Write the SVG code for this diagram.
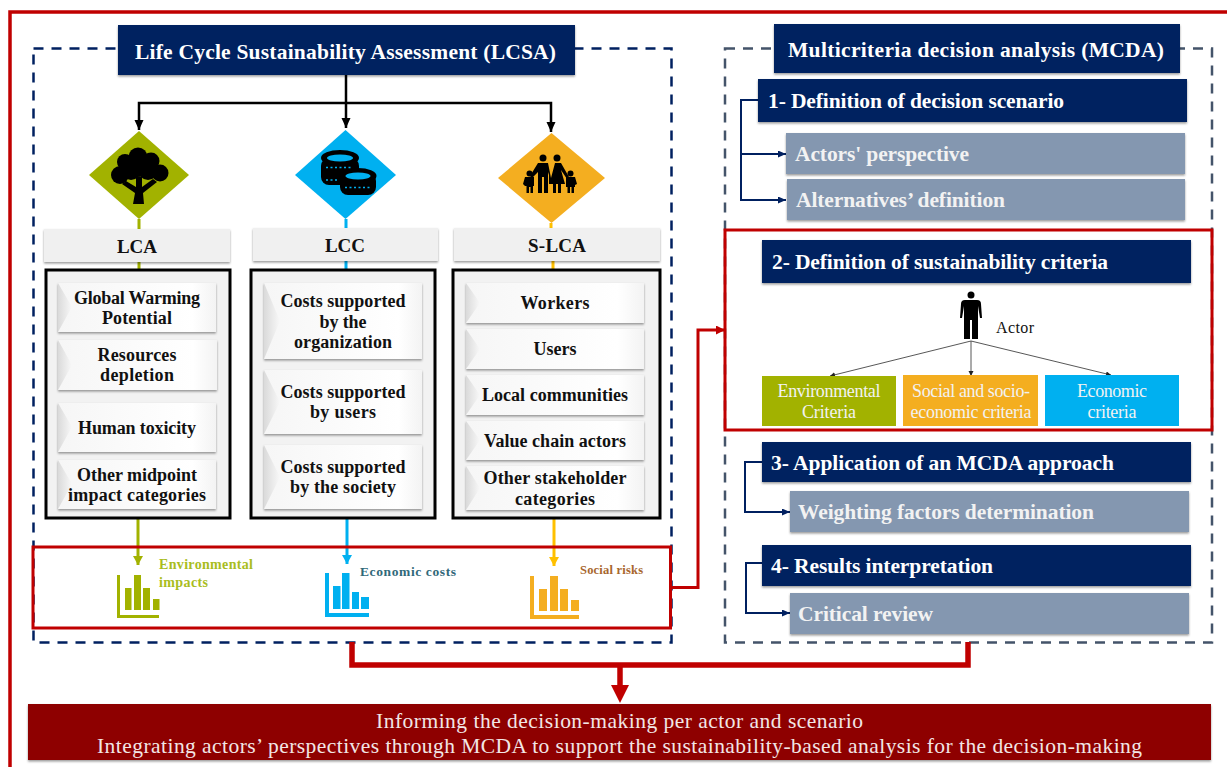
<svg xmlns="http://www.w3.org/2000/svg" width="1227" height="767" viewBox="0 0 1227 767">
<style>
text{font-family:"Liberation Serif","Times New Roman",serif;}
.b{font-weight:bold}
.h{font-size:21.5px;font-weight:bold;fill:#fff}
.s{font-size:21.5px;font-weight:bold;fill:#f2f2f2}
.t{font-size:18px;font-weight:bold;fill:#111;}
.c{font-size:18px;fill:#f2f2f2;}
.m{text-anchor:middle}
.navy{fill:#002060;filter:url(#sh)}
.slate{fill:#8497b0;filter:url(#sh)}
.hd{fill:#f0f0f0;filter:url(#sh)}
.panel{fill:#f2f2f2;stroke:#000;stroke-width:3}
.tile{fill:url(#bev);filter:url(#sh)}
.edge{fill:url(#wedge)}
.bl{fill:none;stroke:#000;stroke-width:2.5}
.nv{fill:none;stroke:#002060;stroke-width:2}
.rd{fill:none;stroke:#c00000}
.gr{stroke:#444;stroke-width:.9;fill:none}
</style>
<defs>
<filter id="sh" x="-5%" y="-10%" width="110%" height="125%"><feDropShadow dx="0" dy="1.5" stdDeviation="1" flood-color="#000" flood-opacity=".4"/></filter>
<linearGradient id="bev" x1="0" y1="0" x2="1" y2="0"><stop offset="0" stop-color="#f6f6f6"/><stop offset=".85" stop-color="#fff"/><stop offset="1" stop-color="#f3f3f3"/></linearGradient>
<linearGradient id="wedge" x1="0" y1="0" x2="1" y2="0"><stop offset="0" stop-color="#dadada"/><stop offset="1" stop-color="#f8f8f8"/></linearGradient>
<marker id="ab" markerUnits="userSpaceOnUse" markerWidth="12" markerHeight="10" refX="10" refY="4.5" orient="auto"><path d="M0 0L10 4.5L0 9Z" fill="#000"/></marker>
<marker id="an" markerUnits="userSpaceOnUse" markerWidth="10" markerHeight="8" refX="8" refY="3.5" orient="auto"><path d="M0 0L8 3.5L0 7Z" fill="#002060"/></marker>
<marker id="ag" markerUnits="userSpaceOnUse" markerWidth="7" markerHeight="6" refX="5" refY="2.5" orient="auto"><path d="M0 0L5 2.5L0 5Z" fill="#222"/></marker>
<marker id="ar" markerUnits="userSpaceOnUse" markerWidth="12" markerHeight="10" refX="9" refY="4.5" orient="auto"><path d="M0 0L9 4.5L0 9Z" fill="#c00000"/></marker>
<marker id="ao" markerUnits="userSpaceOnUse" markerWidth="11" markerHeight="11" refX="9" refY="5" orient="auto"><path d="M0 0L9 5L0 10Z" fill="#a2b200"/></marker>
<marker id="ac" markerUnits="userSpaceOnUse" markerWidth="11" markerHeight="11" refX="9" refY="5" orient="auto"><path d="M0 0L9 5L0 10Z" fill="#00b0f0"/></marker>
<marker id="ay" markerUnits="userSpaceOnUse" markerWidth="11" markerHeight="11" refX="9" refY="5" orient="auto"><path d="M0 0L9 5L0 10Z" fill="#ffc000"/></marker>
</defs>
<rect width="1227" height="767" fill="#fff"/>
<path d="M10 767V12H1227" fill="none" stroke="#c00000" stroke-width="3.5"/>
<g id="frames" fill="none" stroke-width="2.5" stroke-dasharray="10 8">
<rect x="33.500" y="48.500" width="638" height="594" stroke="#002060"/>
<rect x="725" y="48.500" width="487" height="594" stroke="#44546a"/>
</g>

<g id="connectors">
<path class="bl" d="M346 75V128" marker-end="url(#ab)"/>
<path class="bl" d="M346 103H139V130" marker-end="url(#ab)"/>
<path class="bl" d="M346 103H551V132" marker-end="url(#ab)"/>
<path d="M139 219V229M139 262V270" stroke="#a2b200" stroke-width="3"/>
<path d="M346 219V228M346 261V270" stroke="#00b0f0" stroke-width="3"/>
<path d="M551 223V228M553 261V270" stroke="#ffc000" stroke-width="3"/>
<path d="M138 518V565" stroke="#a2b200" stroke-width="3" fill="none" marker-end="url(#ao)"/>
<path d="M347 518V564" stroke="#00b0f0" stroke-width="3" fill="none" marker-end="url(#ac)"/>
<path d="M554 518V566" stroke="#ffc000" stroke-width="3" fill="none" marker-end="url(#ay)"/>
<path class="rd" stroke-width="3" d="M671 587.500H698V330H725" marker-end="url(#ar)"/>
<path class="rd" stroke-width="5.500" d="M352 642V665H968V642"/>
<path class="rd" stroke-width="5.500" d="M620 665V686"/>
<path d="M611 685H629L620 703Z" fill="#c00000"/>
<path class="nv" d="M758 100H741V200H786" marker-end="url(#an)"/>
<path class="nv" d="M741 154H786" marker-end="url(#an)"/>
<path class="nv" d="M762 462H745V512H790" marker-end="url(#an)"/>
<path class="nv" d="M762 563H746V613H790" marker-end="url(#an)"/>
<path class="gr" d="M971 341L830 376" marker-end="url(#ag)"/>
<path class="gr" d="M971 341V376" marker-end="url(#ag)"/>
<path class="gr" d="M971 341L1111 375" marker-end="url(#ag)"/>
</g>

<g id="lcsa-title"><rect class="navy" x="118" y="25" width="457" height="50"/><text class="h" x="135" y="59" textLength="421">Life Cycle Sustainability Assessment (LCSA)</text></g>

<g id="lca-icon"><path d="M139 131L189 175L139 219L89 175Z" fill="#a2b200"/>
<g fill="#000"><circle cx="138" cy="157" r="9.500"/><circle cx="125" cy="162" r="8"/><circle cx="151" cy="161" r="8.500"/><circle cx="120" cy="175" r="9"/><circle cx="160" cy="173" r="8.500"/><circle cx="131" cy="170" r="10"/><circle cx="148" cy="170" r="10"/><circle cx="139" cy="168" r="9"/>
<path d="M133 204L135 193L122 184L126 181L136 187L136 177H142L142 187L153 179L157 182L143 193L144 204Z"/></g></g>
<g id="lcc-icon"><path d="M345.500 130L396 175L345.500 219L295 175Z" fill="#00b0f0"/>
<g fill="#000"><rect x="321" y="158" width="38" height="27" rx="8"/><ellipse cx="340" cy="158" rx="19" ry="8"/><rect x="340" y="173" width="36" height="22" rx="8"/><ellipse cx="358" cy="176" rx="18.500" ry="8"/></g>
<ellipse cx="340" cy="158" rx="13" ry="3.500" fill="#00b0f0"/><ellipse cx="358" cy="176" rx="12.500" ry="3.500" fill="#00b0f0"/>
<path d="M326 167.500H352M326 180H337M345 187.500H372" stroke="#00b0f0" stroke-width="1.500" stroke-dasharray="2 2.500" fill="none"/></g>
<g id="slca-icon"><path d="M551.500 133L605 178L551.500 223L498 178Z" fill="#f4ae20"/>
<g fill="#000"><circle cx="543" cy="158" r="3.500"/><circle cx="557" cy="158" r="3.500"/><circle cx="529.500" cy="173.500" r="3"/><circle cx="570.500" cy="173.500" r="3"/>
<path d="M538 163H548L551 178L555 163H561L569 177L567 179L561 170L565 184H561V193H558V184H556V193H553V184H549L549 172L548 175V193H544V177H542V193H538V172L532 178L530 176Z"/>
<path d="M525 177H534V186H533V193H530.500V187H529V193H526.500V186H525L523 184Z"/><path d="M566 177H575L577 184L575 185V187H574V193H571.500V187H570V193H567.500V187H566Z"/></g></g>

<g id="lca-head"><rect class="hd" x="44" y="229" width="186" height="33"/><text class="b" font-size="19" x="137" y="253" text-anchor="middle" textLength="40" fill="#111">LCA</text></g>
<g id="lcc-head"><rect class="hd" x="253" y="228" width="185" height="33"/><text class="b" font-size="19" x="345" y="252" text-anchor="middle" textLength="40" fill="#111">LCC</text></g>
<g id="slca-head"><rect class="hd" x="454" y="228" width="206" height="33"/><text class="b" font-size="19" x="557" y="252" text-anchor="middle" textLength="58" fill="#111">S-LCA</text></g>

<g id="lca-panel"><rect class="panel" x="46" y="270" width="184" height="248"/>
<rect class="tile" x="58" y="283" width="158" height="49"/><path class="edge" d="M58 283L72 307L58 332Z"/><text class="t m" x="137" y="304" textLength="126">Global Warming</text><text class="t m" x="137" y="324" textLength="70">Potential</text>
<rect class="tile" x="58" y="340" width="159" height="50"/><path class="edge" d="M58 340L72 365L58 390Z"/><text class="t m" x="137" y="361" textLength="79">Resources</text><text class="t m" x="137" y="381" textLength="74">depletion</text>
<rect class="tile" x="58" y="403" width="158" height="49"/><path class="edge" d="M58 403L72 427L58 452Z"/><text class="t m" x="137" y="434" textLength="118">Human toxicity</text>
<rect class="tile" x="58" y="460" width="158" height="49"/><path class="edge" d="M58 460L72 484L58 509Z"/><text class="t m" x="137" y="481" textLength="120">Other midpoint</text><text class="t m" x="137" y="501" textLength="138">impact categories</text>
</g>
<g id="lcc-panel"><rect class="panel" x="251" y="270" width="184" height="248"/>
<rect class="tile" x="264" y="283" width="158" height="76"/><path class="edge" d="M264 283L280 321L264 359Z"/><text class="t m" x="343" y="307" textLength="125">Costs supported</text><text class="t m" x="343" y="328" textLength="47">by the</text><text class="t m" x="343" y="348" textLength="98">organization</text>
<rect class="tile" x="264" y="370" width="158" height="64"/><path class="edge" d="M264 370L280 402L264 434Z"/><text class="t m" x="343" y="398" textLength="125">Costs supported</text><text class="t m" x="343" y="418" textLength="66">by users</text>
<rect class="tile" x="264" y="445" width="158" height="64"/><path class="edge" d="M264 445L280 477L264 509Z"/><text class="t m" x="343" y="473" textLength="125">Costs supported</text><text class="t m" x="343" y="493" textLength="106">by the society</text>
</g>
<g id="slca-panel"><rect class="panel" x="453" y="270" width="207" height="248"/>
<rect class="tile" x="466" y="283" width="178" height="40"/><path class="edge" d="M466 283L480 303L466 323Z"/><text class="t m" x="555" y="309" textLength="69">Workers</text>
<rect class="tile" x="466" y="329" width="178" height="40"/><path class="edge" d="M466 329L480 349L466 369Z"/><text class="t m" x="555" y="355" textLength="43">Users</text>
<rect class="tile" x="466" y="375" width="178" height="40"/><path class="edge" d="M466 375L480 395L466 415Z"/><text class="t m" x="555" y="401" textLength="146">Local communities</text>
<rect class="tile" x="466" y="421" width="178" height="39"/><path class="edge" d="M466 421L480 440L466 460Z"/><text class="t m" x="555" y="447" textLength="142">Value chain actors</text>
<rect class="tile" x="466" y="466" width="178" height="44"/><path class="edge" d="M466 466L480 488L466 510Z"/><text class="t m" x="555" y="484" textLength="143">Other stakeholder</text><text class="t m" x="555" y="505" textLength="80">categories</text>
</g>

<g id="results">
<rect x="33" y="547" width="637.500" height="81" fill="none" stroke="#c00000" stroke-width="3"/>
<g id="env-impacts" fill="#a2b200"><path d="M117 575H120V615H159V618H117Z"/><rect x="125" y="588" width="6.500" height="22"/><rect x="134" y="575" width="7" height="35"/><rect x="143" y="588" width="7" height="22"/><rect x="153" y="599" width="6.500" height="11"/><text class="b" font-size="14" x="159" y="569" fill="#a9bd1e" textLength="94">Environmental</text><text class="b" font-size="14" x="159" y="587" fill="#a9bd1e" textLength="49">impacts</text></g>
<g id="econ-costs" fill="#00b0f0"><path d="M325 573H329V613H369V617H325Z"/><rect x="333" y="586" width="7.500" height="23"/><rect x="342" y="573" width="7.500" height="36"/><rect x="352" y="592" width="7" height="17"/><rect x="361" y="597" width="8" height="12"/><text class="b" font-size="13.500" x="360" y="576" fill="#31697a" textLength="96">Economic costs</text></g>
<g id="social-risks" fill="#f4ae20"><path d="M530 576H534V615H579V619H530Z"/><rect x="539" y="589" width="8" height="22"/><rect x="550" y="576" width="8" height="35"/><rect x="560" y="589" width="8" height="22"/><rect x="571" y="600" width="8" height="11"/><text class="b" font-size="12.500" x="580" y="574" fill="#a8672e" textLength="63">Social risks</text></g>
</g>

<g id="mcda-title"><rect class="navy" x="774" y="24" width="406" height="49"/><text class="h" x="788" y="57" textLength="376">Multicriteria decision analysis (MCDA)</text></g>
<g id="step1"><rect class="navy" x="758" y="79" width="429" height="43"/><text class="h" x="768" y="108" textLength="296">1- Definition of decision scenario</text></g>
<g id="actors-perspective"><rect class="slate" x="786" y="133" width="399" height="41"/><text class="s" x="795" y="161" textLength="174">Actors' perspective</text></g>
<g id="alternatives"><rect class="slate" x="787" y="179" width="398" height="41"/><text class="s" x="796" y="207" textLength="209">Alternatives’ definition</text></g>

<g id="step2-frame"><rect x="725" y="230" width="487" height="200" fill="none" stroke="#c00000" stroke-width="3"/></g>
<g id="step2"><rect class="navy" x="762" y="240" width="429" height="43"/><text class="h" x="772" y="269" textLength="336">2- Definition of sustainability criteria</text></g>
<g id="actor"><circle cx="971" cy="295" r="3.500"/><path d="M965 300H977Q981 300 981 304L982 318H980L978 306V339H972V320H970V339H964V306L962 318H960L961 304Q961 300 965 300Z"/><text x="996" y="333" font-size="16" textLength="38" fill="#111">Actor</text></g>
<g id="env-criteria"><rect x="762" y="376" width="134" height="50" fill="#a2b200"/><text class="c m" x="829" y="397" textLength="103">Environmental</text><text class="c m" x="829" y="418" textLength="54">Criteria</text></g>
<g id="soc-criteria"><rect x="903" y="375" width="135" height="51" fill="#f4ae20"/><text class="c m" x="971" y="397" textLength="118">Social and socio-</text><text class="c m" x="971" y="418" textLength="121">economic criteria</text></g>
<g id="eco-criteria"><rect x="1045" y="375" width="134" height="51" fill="#00b0f0"/><text class="c m" x="1112" y="397" textLength="70">Economic</text><text class="c m" x="1112" y="418" textLength="49">criteria</text></g>

<g id="step3"><rect class="navy" x="762" y="442" width="429" height="40"/><text class="h" x="771" y="470" textLength="343">3- Application of an MCDA approach</text></g>
<g id="weighting"><rect class="slate" x="790" y="491" width="399" height="41"/><text class="s" x="798" y="519" textLength="296">Weighting factors determination</text></g>
<g id="step4"><rect class="navy" x="762" y="545" width="429" height="41"/><text class="h" x="771" y="573" textLength="222">4- Results interpretation</text></g>
<g id="critical"><rect class="slate" x="790" y="593" width="399" height="41"/><text class="s" x="798" y="621" textLength="135">Critical review</text></g>

<g id="conclusion"><rect x="28" y="704" width="1183" height="56" fill="#8e0000" filter="url(#sh)"/>
<text x="376" y="728" font-size="21.500" fill="#f2e6e6" textLength="487">Informing the decision-making per actor and scenario</text>
<text x="97" y="753" font-size="21.500" fill="#f2e6e6" textLength="1045">Integrating actors’ perspectives through MCDA to support the sustainability-based analysis for the decision-making</text></g>
</svg>
